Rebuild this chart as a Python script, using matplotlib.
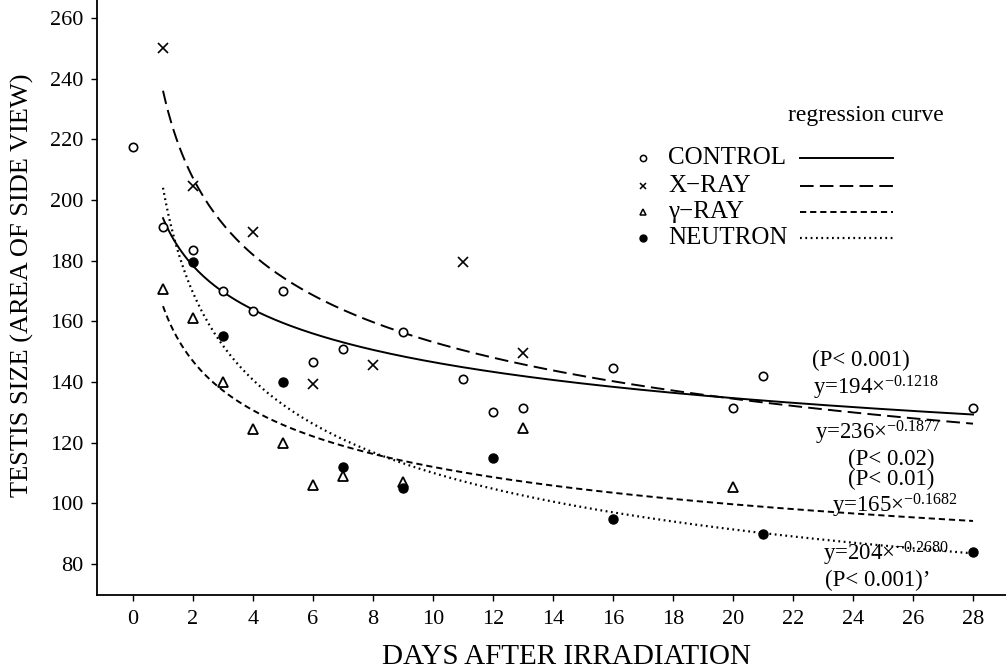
import numpy as np
import matplotlib
matplotlib.use("Agg")
import matplotlib.pyplot as plt
from matplotlib.lines import Line2D

plt.rcParams['font.family'] = ['Liberation Serif', 'DejaVu Serif']
plt.rcParams['mathtext.fontset'] = 'custom'
plt.rcParams['mathtext.rm'] = 'Liberation Serif'
plt.rcParams['mathtext.it'] = 'Liberation Serif:italic'

# ---- data ----
control_x = [0, 1, 2, 3, 4, 5, 6, 7, 9, 11, 12, 13, 16, 20, 21, 28]
control_y = [217.5, 191, 183.5, 170, 163.5, 170, 146.5, 151, 156.5, 141, 130, 131.5, 144.5, 131.5, 142, 131.5]
xray_x = [1, 2, 4, 6, 8, 11, 13]
xray_y = [250, 204.5, 189.5, 139.5, 145.5, 179.5, 149.5]
gamma_x = [1, 2, 3, 4, 5, 6, 7, 9, 13, 20]
gamma_y = [170.5, 161, 140, 124.5, 120, 106, 109, 107, 125, 105.5]
neutron_x = [2, 3, 5, 7, 9, 12, 16, 21, 28]
neutron_y = [179.5, 155, 140, 112, 105, 115, 95, 90, 84]

# regression curves y = a * x^(-b)
reg_names = ['CONTROL', 'X\u2212RAY', '\u03b3\u2212RAY', 'NEUTRON']
reg_a = [194, 236, 165, 204]
reg_b = [0.1218, 0.1877, 0.1682, 0.2680]
reg_p = ['(P< 0.001)', '(P< 0.02)', '(P< 0.01)', '(P< 0.001)\u2019']
x_ticks = list(range(0, 29, 2))
y_ticks = list(range(80, 261, 20))

W, H = 1006, 672
fig = plt.figure(figsize=(W / 100, H / 100), dpi=100)
ax = fig.add_axes([97 / W, 1 - 595 / H, 1 - 97 / W, 595 / H])
ax.set_xlim(-1.2, 29.1)
ax.set_ylim(69.8, 265.9)

lw = 1.4
styles = [
    dict(linestyle='-', linewidth=lw),
    dict(linestyle=(0, (7, 3.2)), linewidth=lw),
    dict(linestyle=(0, (3.2, 2.0)), linewidth=lw),
    dict(linestyle=(0, (0.8, 1.6)), linewidth=1.6),
]

xs = np.linspace(1, 28, 300)
for a, b, st in zip(reg_a, reg_b, styles):
    ax.plot(xs, a * xs ** (-b), color='black', **st)

mk = dict(linestyle='none', color='black')
ax.plot(control_x, control_y, marker='o', markersize=6, markerfacecolor='white',
        markeredgecolor='black', markeredgewidth=1.2, **mk)
ax.plot(xray_x, xray_y, marker='x', markersize=6.5, markeredgewidth=1.2, **mk)
ax.plot(gamma_x, gamma_y, marker='^', markersize=7, markerfacecolor='white',
        markeredgecolor='black', markeredgewidth=1.3, **mk)
ax.plot(neutron_x, neutron_y, marker='o', markersize=6.5, markerfacecolor='black',
        markeredgecolor='black', **mk)

ax.set_xticks(x_ticks)
ax.set_yticks(y_ticks)
ax.tick_params(axis='both', direction='out', length=4, width=1, labelsize=16)
ax.tick_params(axis='x', pad=7)
ax.tick_params(axis='y', pad=6)
for s in ['top', 'right']:
    ax.spines[s].set_visible(False)
for s in ['left', 'bottom']:
    ax.spines[s].set_linewidth(1.3)

ax.set_xlabel('DAYS AFTER IRRADIATION', fontsize=21)
ax.xaxis.set_label_coords((567 - 97) / (W - 97), -(657 - 595) / 595)
ax.set_ylabel('TESTIS SIZE (AREA OF SIDE VIEW)', fontsize=19)
ax.yaxis.set_label_coords(-(97 - 22) / (W - 97), 1 - 285 / 595)
ax.xaxis.label.set_va('center')
ax.yaxis.label.set_va('center')


def ft(x, y, s, **kw):
    return fig.text(x / W, 1 - y / H, s, **kw)


# legend
ft(866, 116, 'regression curve', fontsize=17, ha='center', va='center')
rows_y = [158, 186, 212, 238]
leg_markers = [
    dict(marker='o', markersize=4.5, markerfacecolor='white', markeredgecolor='black', markeredgewidth=1.1),
    dict(marker='x', markersize=4.5, markeredgecolor='black', markeredgewidth=1.1),
    dict(marker='^', markersize=5, markerfacecolor='white', markeredgecolor='black', markeredgewidth=1.1),
    dict(marker='o', markersize=5, markerfacecolor='black', markeredgecolor='black'),
]
for name, yy, lm, st in zip(reg_names, rows_y, leg_markers, styles):
    fig.add_artist(Line2D([643 / W], [1 - yy / H], linestyle='none', color='black', **lm))
    ft(668, yy, name, fontsize=18, ha='left', va='center')
    fig.add_artist(Line2D([800 / W, 893 / W], [1 - yy / H, 1 - yy / H], color='black', **st))


# equations
def eq(a, b):
    return 'y=%d\u00d7$^{-%.4f}$' % (a, b)


ft(812, 360, reg_p[0], fontsize=16.5, ha='left', va='center')
ft(813, 388, eq(reg_a[0], reg_b[0]), fontsize=16.5, ha='left', va='center')
ft(815, 433, eq(reg_a[1], reg_b[1]), fontsize=16.5, ha='left', va='center')
ft(848, 459, reg_p[1], fontsize=16.5, ha='left', va='center')
ft(848, 479, reg_p[2], fontsize=16.5, ha='left', va='center')
ft(832, 506, eq(reg_a[2], reg_b[2]), fontsize=16.5, ha='left', va='center')
ft(823, 554, eq(reg_a[3], reg_b[3]), fontsize=16.5, ha='left', va='center')
ft(825, 580, reg_p[3], fontsize=16.5, ha='left', va='center')

fig.savefig('out.png', dpi=100)
